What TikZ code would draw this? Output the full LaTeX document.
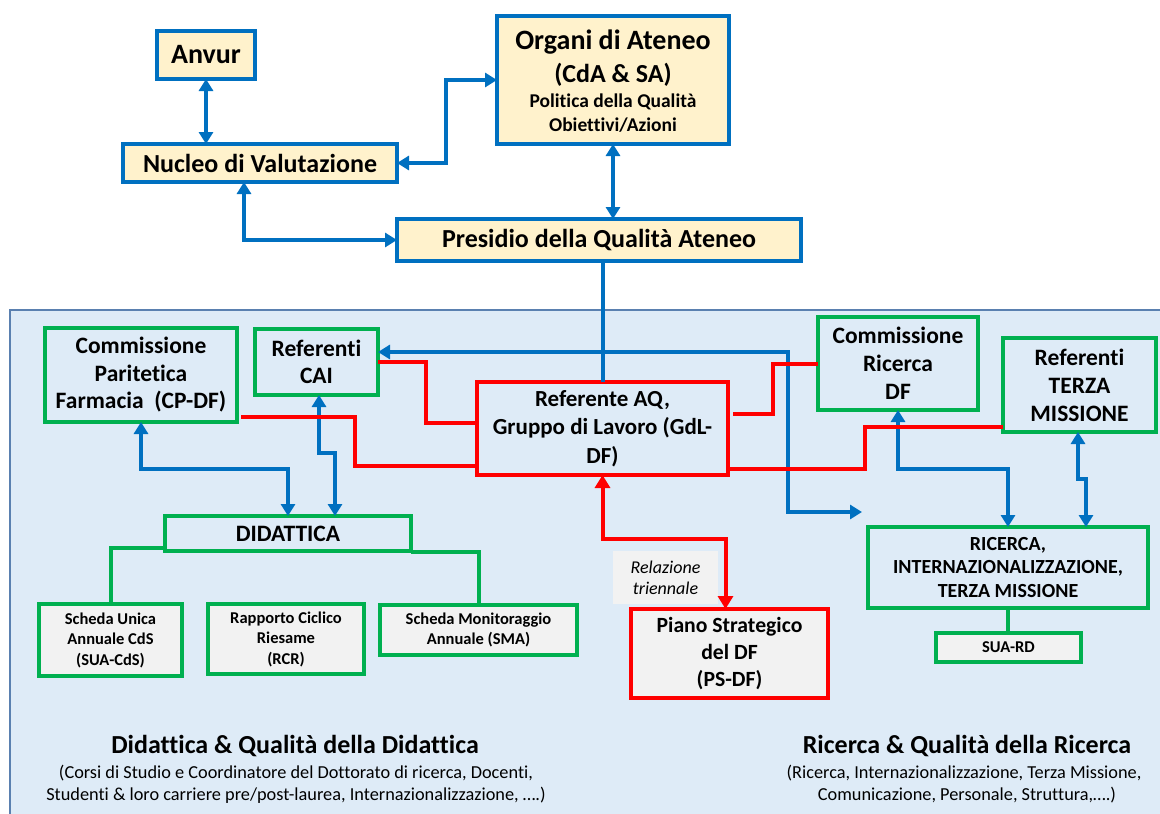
\documentclass[tikz,border=0pt]{standalone}
\usepackage{fontspec}
\setmainfont{Carlito}[Ligatures={NoCommon}]
\usetikzlibrary{arrows.meta,calc}
\definecolor{cblue}{HTML}{0070C0}
\definecolor{cgreen}{HTML}{00B050}
\definecolor{cred}{HTML}{FF0000}
\definecolor{ccream}{HTML}{FFF2CC}
\definecolor{cbg}{HTML}{DEEBF7}
\definecolor{cbgline}{HTML}{5A80B0}
\definecolor{cgray}{HTML}{F2F2F2}
\begin{document}
\begin{tikzpicture}[x=1pt,y=-1pt,
  every node/.style={inner sep=0pt, outer sep=0pt, align=center, text=black},
  topbox/.style={draw=cblue, fill=ccream, line width=4pt, font=\bfseries\fontsize{26}{30}\selectfont},
  gbox/.style={draw=cgreen, fill=cbg, line width=4pt, font=\bfseries\fontsize{23.5}{27.5}\selectfont},
  rbox/.style={draw=cred, fill=cbg, line width=4pt, font=\bfseries\fontsize{23}{28.5}\selectfont},
  docbox/.style={draw=cgreen, fill=cgray, line width=4pt, font=\bfseries\fontsize{16.5}{20.5}\selectfont},
  barrow/.style={draw=cblue, line width=4pt, arrows={Triangle[length=12pt,width=14pt]-Triangle[length=12pt,width=14pt]}},
  bline/.style={draw=cblue, line width=4pt},
  rline/.style={draw=cred, line width=4pt},
  rarrow/.style={draw=cred, line width=4pt, arrows={Triangle[length=13pt,width=15pt]-Triangle[length=13pt,width=15pt]}},
  gline/.style={draw=cgreen, line width=4pt},
  wh/.style 2 args={minimum width=#1pt, minimum height=#2pt}
]
\clip (0,0) rectangle (1160,814);
\fill[white] (0,0) rectangle (1160,814);
% background panel
\draw[fill=cbg, draw=cbgline, line width=1.5pt] (10,310) rectangle (1175,830);

% ---------- top boxes ----------
\node[topbox, wh={98}{48}, font=\bfseries\fontsize{28}{32}\selectfont] (anvur) at (206,55) {Anvur};
\node[topbox, wh={274}{38}] (nucleo) at (260,163) {Nucleo di Valutazione};
\node[topbox, wh={232}{128}] (organi) at (613,80) {};
\node[anchor=base, font=\bfseries\fontsize{28}{32}\selectfont] (orgt1) at (613,49) {Organi di Ateneo};
\node[anchor=base, font=\bfseries\fontsize{26}{30}\selectfont] (orgt2) at (613,82) {(CdA \& SA)};
\node[anchor=base, font=\bfseries\fontsize{19.5}{23}\selectfont] (orgt3) at (613,107) {Politica della Qualità};
\node[anchor=base, font=\bfseries\fontsize{19.5}{23}\selectfont] (orgt4) at (613,131) {Obiettivi/Azioni};
\node[topbox, wh={404}{42}] (presidio) at (599,240) {Presidio della Qualità Ateneo};

% ---------- panel boxes ----------
\node[gbox, wh={192}{94}] (cpdf) at (141,375) {Commissione\\Paritetica\\Farmacia\ \ (CP-DF)};
\node[gbox, wh={123}{66}] (cai) at (316.5,362) {Referenti\\CAI};
\node[rbox, wh={251}{93}] (aq) at (602.5,428.5) {Referente AQ,\\Gruppo di Lavoro (GdL-\\DF)};
\node[gbox, wh={160}{93}, font=\bfseries\fontsize{23.5}{28}\selectfont] (cric) at (898,363.5) {Commissione\\Ricerca\\DF};
\node[gbox, wh={153}{94}, font=\bfseries\fontsize{23.5}{28}\selectfont] (tm) at (1079.5,385) {Referenti\\TERZA\\MISSIONE};
\node[gbox, wh={246}{35}] (did) at (288,533.5) {DIDATTICA};
\node[docbox, wh={143}{72}] (sua) at (110.5,640) {Scheda Unica\\Annuale CdS\\(SUA-CdS)};
\node[docbox, wh={156}{70}] (rcr) at (286,639) {Rapporto Ciclico\\Riesame\\(RCR)};
\node[docbox, wh={197}{50}] (mon) at (478.5,630) {Scheda Monitoraggio\\Annuale (SMA)};
\node[fill=cgray, wh={105}{53}, font=\itshape\fontsize{18}{21}\selectfont] (rel) at (665.5,577.5) {Relazione\\triennale};
\node[draw=cred, fill=cgray, line width=4pt, wh={197}{89}, font=\bfseries\fontsize{21.7}{27}\selectfont] (piano) at (729.5,653.5) {Piano Strategico\\del DF\\(PS-DF)};
\node[gbox, wh={280}{81}, font=\bfseries\fontsize{20}{23.5}\selectfont] (ric) at (1008,567.5) {RICERCA,\\INTERNAZIONALIZZAZIONE,\\TERZA MISSIONE};
\node[docbox, wh={145}{29}] (suard) at (1008.5,647.5) {SUA-RD};

% ---------- bottom texts ----------
\node[anchor=base, font=\bfseries\fontsize{26}{30}\selectfont] (dtitle) at (295,753) {Didattica \& Qualità della Didattica};
\node[anchor=base, font=\fontsize{18.3}{22}\selectfont] (dsub1) at (296,778) {(Corsi di Studio e Coordinatore del Dottorato di ricerca, Docenti,};
\node[anchor=base, font=\fontsize{18.3}{22}\selectfont] (dsub2) at (296,800) {Studenti \& loro carriere pre/post-laurea, Internazionalizzazione, ….)};
\node[anchor=base, font=\bfseries\fontsize{26}{30}\selectfont] (rtitle) at (967,753) {Ricerca \& Qualità della Ricerca};
\node[anchor=base, font=\fontsize{18.3}{22}\selectfont] (rsub1) at (964,778) {(Ricerca, Internazionalizzazione, Terza Missione,};
\node[anchor=base, font=\fontsize{18.3}{22}\selectfont] (rsub2) at (967,800) {Comunicazione, Personale, Struttura,….)};

% ---------- helper coordinates ----------
\coordinate (ly1) at (0,469);
\coordinate (ly2) at (0,453);
\coordinate (ly3) at (0,469);
\coordinate (ly4) at (0,479);
\coordinate (ly5) at (0,539);
\coordinate (freeend) at (862,512);

% ---------- top connectors ----------
\draw[barrow] (anvur.south) -- (anvur.south |- nucleo.north);
\draw[barrow] (nucleo.east) -- ++(49,0) |- (organi.west);
\draw[barrow] ($(nucleo.south)+(-16,0)$) |- (presidio.west);
\draw[barrow] (organi.south) -- (organi.south |- presidio.north);
\draw[bline] (presidio.south -| aq.north) -- (aq.north);

% ---------- panel blue connectors ----------
\draw[barrow] ($(cai.east)+(0,-10)$) -| ($(freeend)+(-74,0)$) -- (freeend);
\draw[barrow] (cpdf.south) -- (cpdf.south |- ly1) -| (did.north);
\draw[barrow] ($(cai.south)+(2.5,0)$) -- ($(cai.south |- ly2)+(2.5,0)$) -| ($(did.north)+(47,0)$);
\draw[barrow] (cric.south) -- (cric.south |- ly3) -| (ric.north);
\draw[barrow] ($(tm.south)+(-1.5,0)$) -- ($(tm.south |- ly4)+(-1.5,0)$) -| ($(ric.north)+(78,0)$);

% ---------- red connectors ----------
\draw[rline] (cai.east) -- ++(48,0) |- ($(aq.west)+(0,-6)$);
\draw[rline] ($(cpdf.south east)+(4,-5)$) -- ++(114,0) |- ($(aq.west)+(0,37)$);
\draw[rline] ($(aq.east)+(5,-15)$) -- ++(40,0) |- (cric.west);
\draw[rline] ($(aq.south east)+(0,-6)$) -- ++(137,0) |- ($(tm.west)+(0,42)$);
\draw[rarrow] (aq.south) -- (aq.south |- ly5) -| ($(piano.north)+(-4,0)$);

% ---------- green connectors ----------
\draw[gline] ($(did.west)+(0,14)$) -| (sua.north);
\draw[gline] ($(did.south)+(-9,0)$) -- ($(did.south)+(-9,0)$ |- rcr.north);
\draw[gline] ($(did.east)+(0,18)$) -| (mon.north);
\draw[gline] (ric.south) -- (ric.south |- suard.north);
\end{tikzpicture}
\end{document}
